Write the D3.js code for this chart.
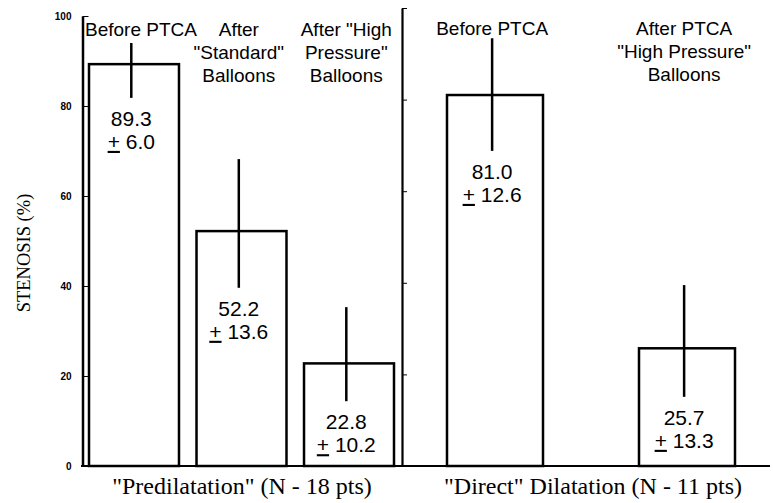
<!DOCTYPE html>
<html>
<head>
<meta charset="utf-8">
<script src="https://cdn.jsdelivr.net/npm/d3@7"></script>
<style>
  body { margin: 0; background: #fff; }
  svg { display: block; }
  .cat { font-family: Arial, "Liberation Sans", sans-serif; font-size: 19px; fill: #000; }
  .val { font-family: Arial, "Liberation Sans", sans-serif; font-size: 21px; fill: #000; }
  .grp { font-family: "Times New Roman", "Liberation Serif", serif; font-size: 24px; fill: #000; }
  .ylab { font-family: "Times New Roman", "Liberation Serif", serif; font-size: 18.5px; fill: #000; }
  .tick text { font-family: Arial, "Liberation Sans", sans-serif; font-size: 10px; font-weight: bold; fill: #000; }
</style>
</head>
<body>
<div id="chart"></div>
<script>
// data
const leftCats = ["pre", "std", "hp"];
const leftLabels = [["Before PTCA"], ["After", "\"Standard\"", "Balloons"], ["After \"High", "Pressure\"", "Balloons"]];
const leftMeans = [89.3, 52.2, 22.8];
const leftSd = ["6.0", "13.6", "10.2"];
const leftErrHi = [94.0, 68.2, 35.3];
const leftErrLo = [81.8, 39.6, 14.4];

const rightCats = ["pre", "hp"];
const rightLabels = [["Before PTCA"], ["After PTCA", "\"High Pressure\"", "Balloons"]];
const rightMeans = [81.0, 25.7];
const rightSd = ["12.6", "13.3"];
const rightErrHi = [93.4, 39.5];
const rightErrLo = [68.8, 15.1];

const yTicks = [0, 20, 40, 60, 80, 100];
const groupTitles = ["\"Predilatation\" (N - 18 pts)", "\"Direct\" Dilatation (N - 11 pts)"];

const width = 773, height = 503;
const baseY = 466;

const svg = d3.select("#chart").append("svg")
    .attr("width", width)
    .attr("height", height);

// left panel scales
const xLeft = d3.scaleBand().domain(leftCats).range([89, 394]).paddingInner(0.163).paddingOuter(0);
const yLeft = d3.scaleLinear().domain([0, 100]).range([baseY, 16]);
// right panel has its own (slightly taller) axis
const xRight = d3.scaleBand().domain(rightCats).range([447, 735]).paddingInner(0.5).paddingOuter(0);
const yRight = d3.scaleLinear().domain([0, 100]).range([baseY, 8]);

// axes
const axLeft = svg.append("g").attr("transform", "translate(82.5,0)")
    .call(d3.axisLeft(yLeft).tickValues(yTicks).tickSizeInner(-6).tickSizeOuter(0).tickPadding(11));
axLeft.select(".domain").attr("stroke-width", 2.5);
axLeft.selectAll(".tick line").attr("stroke-width", 1);

const axRight = svg.append("g").attr("transform", "translate(402,0)")
    .call(d3.axisLeft(yRight).tickValues(yTicks).tickSizeInner(-5).tickSizeOuter(0).tickFormat(""));
axRight.select(".domain").attr("stroke-width", 2.2);
axRight.selectAll(".tick line").attr("stroke-width", 1);

// baseline
svg.append("line")
    .attr("x1", 81).attr("x2", 770)
    .attr("y1", baseY).attr("y2", baseY)
    .attr("stroke", "#000").attr("stroke-width", 2.2);

function drawPanel(cats, labels, means, sd, hi, lo, x, y) {
    const g = svg.append("g");
    const data = cats.map((c, i) => ({ c: c, lines: labels[i], m: means[i], sd: sd[i], hi: hi[i], lo: lo[i] }));
    const ex = d => x(d.c) + x.bandwidth() * 0.47;

    g.selectAll("rect.bar")
        .data(data).enter()
        .append("rect").attr("class", "bar")
        .attr("x", d => x(d.c))
        .attr("y", d => y(d.m))
        .attr("width", x.bandwidth())
        .attr("height", d => baseY - y(d.m))
        .attr("fill", "#fff")
        .attr("stroke", "#000")
        .attr("stroke-width", 2.5);

    g.selectAll("line.err")
        .data(data).enter()
        .append("line").attr("class", "err")
        .attr("x1", ex).attr("x2", ex)
        .attr("y1", d => y(d.hi)).attr("y2", d => y(d.lo))
        .attr("stroke", "#000").attr("stroke-width", 2.5);

    // mean and sd text under the error bar
    const vt = g.selectAll("text.val")
        .data(data).enter()
        .append("text").attr("class", "val")
        .attr("text-anchor", "middle")
        .attr("x", ex)
        .attr("y", d => y(d.lo) + 28);
    vt.append("tspan").text(d => d.m.toFixed(1));
    vt.each(function (d) {
        const t = d3.select(this);
        const ts = t.append("tspan").attr("x", ex(d)).attr("dy", 23);
        ts.append("tspan").attr("text-decoration", "underline").text("+");
        ts.append("tspan").text(" " + d.sd);
    });

    // category labels at the top
    g.selectAll("text.cat")
        .data(data).enter()
        .append("text").attr("class", "cat")
        .attr("text-anchor", "middle")
        .attr("x", ex)
        .attr("y", y === yLeft ? 36 : 35)
        .each(function (d) {
            const t = d3.select(this);
            d.lines.forEach((ln, j) => {
                t.append("tspan").attr("x", ex(d)).attr("dy", j === 0 ? 0 : 23).text(ln);
            });
            // keep label clear of the axis
            const bb = this.getBBox();
            const minX = (y === yLeft ? 82 : 402) + 3;
            if (bb.x < minX) {
                t.attr("transform", "translate(" + (minX - bb.x) + ",0)");
            }
        });
}

drawPanel(leftCats, leftLabels, leftMeans, leftSd, leftErrHi, leftErrLo, xLeft, yLeft);
drawPanel(rightCats, rightLabels, rightMeans, rightSd, rightErrHi, rightErrLo, xRight, yRight);

// group titles
svg.append("text").attr("class", "grp")
    .attr("text-anchor", "middle")
    .attr("x", 242).attr("y", 494)
    .text(groupTitles[0]);
svg.append("text").attr("class", "grp")
    .attr("text-anchor", "middle")
    .attr("x", 593).attr("y", 494)
    .text(groupTitles[1]);

// y axis title
svg.append("text").attr("class", "ylab")
    .attr("text-anchor", "middle")
    .attr("transform", "translate(30,253) rotate(-90)")
    .text("STENOSIS (%)");
</script>
</body>
</html>
